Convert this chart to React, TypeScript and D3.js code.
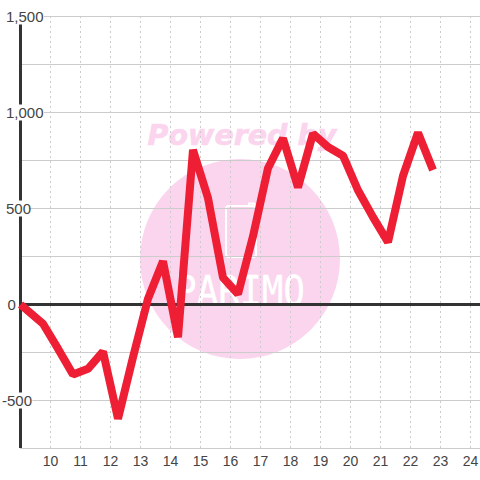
import * as d3 from "d3";
import { useEffect, useRef } from "react";

const hours = [9, 9.75, 10.25, 10.75, 11.25, 11.75, 12.25, 12.75, 13.25, 13.75, 14.25, 14.75, 15.25, 15.75, 16.25, 16.75, 17.25, 17.75, 18.25, 18.75, 19.25, 19.75, 20.25, 20.75, 21.25, 21.75, 22.25, 22.75];
const values = [0, -100, -230, -365, -335, -245, -595, -275, 30, 225, -170, 805, 555, 140, 55, 355, 710, 865, 610, 890, 820, 775, 595, 455, 325, 670, 895, 700];
const xTicks = [10, 11, 12, 13, 14, 15, 16, 17, 18, 19, 20, 21, 22, 23, 24];
const yGrid = [-750, -500, -250, 0, 250, 500, 750, 1000, 1250, 1500];
const yLabels = [-500, 0, 500, 1000, 1500];

const WIDTH = 480;
const HEIGHT = 480;
const FONT = "'Liberation Sans', Arial, sans-serif";

const fmt = (d: number) => d3.format(",")(d).replace("\u2212", "-");

export default function App(): JSX.Element {
  const svgRef = useRef<SVGSVGElement>(null);

  useEffect(() => {
    if (!svgRef.current) return;
    const svg = d3.select(svgRef.current);
    svg.selectAll("*").remove();

    const x = d3.scaleLinear().domain([9, 24.317]).range([20.5, 480]);
    const y = d3.scaleLinear().domain([-750, 1500]).range([448.5, 16.5]);

    // watermark sits under everything
    const mark = svg.append("g");
    mark.append("circle").attr("cx", 240).attr("cy", 259).attr("r", 100).attr("fill", "#fbd5ee");
    mark
      .append("text")
      .attr("x", 242)
      .attr("y", 145)
      .attr("text-anchor", "middle")
      .attr("font-family", "'DejaVu Sans', sans-serif")
      .attr("font-weight", "bold")
      .attr("font-style", "italic")
      .attr("font-size", 28.5)
      .attr("stroke", "#fbd5ee")
      .attr("stroke-width", 0.6)
      .attr("fill", "#fbd5ee")
      .text("Powered by");
    mark
      .append("path")
      .attr("d", "M249 206 V203.5 H254 L256 206")
      .attr("fill", "none")
      .attr("stroke", "#fff")
      .attr("stroke-width", 2);
    mark
      .append("rect")
      .attr("x", 226)
      .attr("y", 206)
      .attr("width", 30)
      .attr("height", 51)
      .attr("rx", 3)
      .attr("fill", "none")
      .attr("stroke", "#fff")
      .attr("stroke-width", 2);
    mark
      .append("text")
      .attr("x", 240)
      .attr("y", 305)
      .attr("text-anchor", "middle")
      .attr("font-family", "'DejaVu Sans Mono', monospace")
      .attr("font-size", 40)
      .attr("textLength", 130)
      .attr("lengthAdjust", "spacingAndGlyphs")
      .attr("stroke", "#fff")
      .attr("stroke-width", 0.3)
      .attr("fill", "#fff")
      .text("PARIMO");

    svg
      .append("g")
      .selectAll("line")
      .data(yGrid)
      .join("line")
      .attr("x1", 20)
      .attr("x2", WIDTH)
      .attr("y1", (d) => y(d))
      .attr("y2", (d) => y(d))
      .attr("stroke", "#ccc")
      .attr("stroke-width", 1);

    svg
      .append("g")
      .selectAll("line")
      .data(xTicks)
      .join("line")
      .attr("x1", (d) => x(d))
      .attr("x2", (d) => x(d))
      .attr("y1", 16)
      .attr("y2", 448)
      .attr("stroke", "#ccc")
      .attr("stroke-width", 1)
      .attr("stroke-dasharray", "2,3");

    // axes
    svg.append("line").attr("x1", 20.5).attr("x2", 20.5).attr("y1", 16).attr("y2", 448).attr("stroke", "#333").attr("stroke-width", 3);
    svg.append("line").attr("x1", 20).attr("x2", WIDTH).attr("y1", y(0)).attr("y2", y(0)).attr("stroke", "#333").attr("stroke-width", 3);

    const lineGen = d3
      .line<number>()
      .x((d) => x(d))
      .y((_, i) => y(values[i]));

    svg
      .append("path")
      .datum(hours)
      .attr("d", lineGen)
      .attr("fill", "none")
      .attr("stroke", "#ee1f35")
      .attr("stroke-width", 8)
      .attr("stroke-linejoin", "bevel");

    // y labels have a white box behind them that cuts the axis
    const yLabel = svg
      .append("g")
      .selectAll("g")
      .data(yLabels)
      .join("g")
      .attr("transform", (d) => `translate(${d < 0 ? 2 : d === 0 ? 7.5 : 6},${y(d)})`);
    yLabel
      .append("rect")
      .attr("x", -1)
      .attr("y", -8)
      .attr("width", (d) => fmt(d).length * 7.6 + 1)
      .attr("height", 16)
      .attr("fill", "#fff");
    yLabel
      .append("text")
      .attr("dy", "0.35em")
      .attr("font-family", FONT)
      .attr("font-size", 15)
      .attr("fill", "#444")
      .text((d) => fmt(d));

    svg
      .append("g")
      .selectAll("text")
      .data(xTicks)
      .join("text")
      .attr("x", (d) => x(d))
      .attr("y", 466)
      .attr("text-anchor", "middle")
      .attr("font-family", FONT)
      .attr("font-size", 14)
      .attr("fill", "#444")
      .text((d) => d);
  }, []);

  return (
    <svg
      ref={svgRef}
      width={WIDTH}
      height={HEIGHT}
      style={{ position: "absolute", left: 0, top: 0, background: "#fff" }}
    />
  );
}
